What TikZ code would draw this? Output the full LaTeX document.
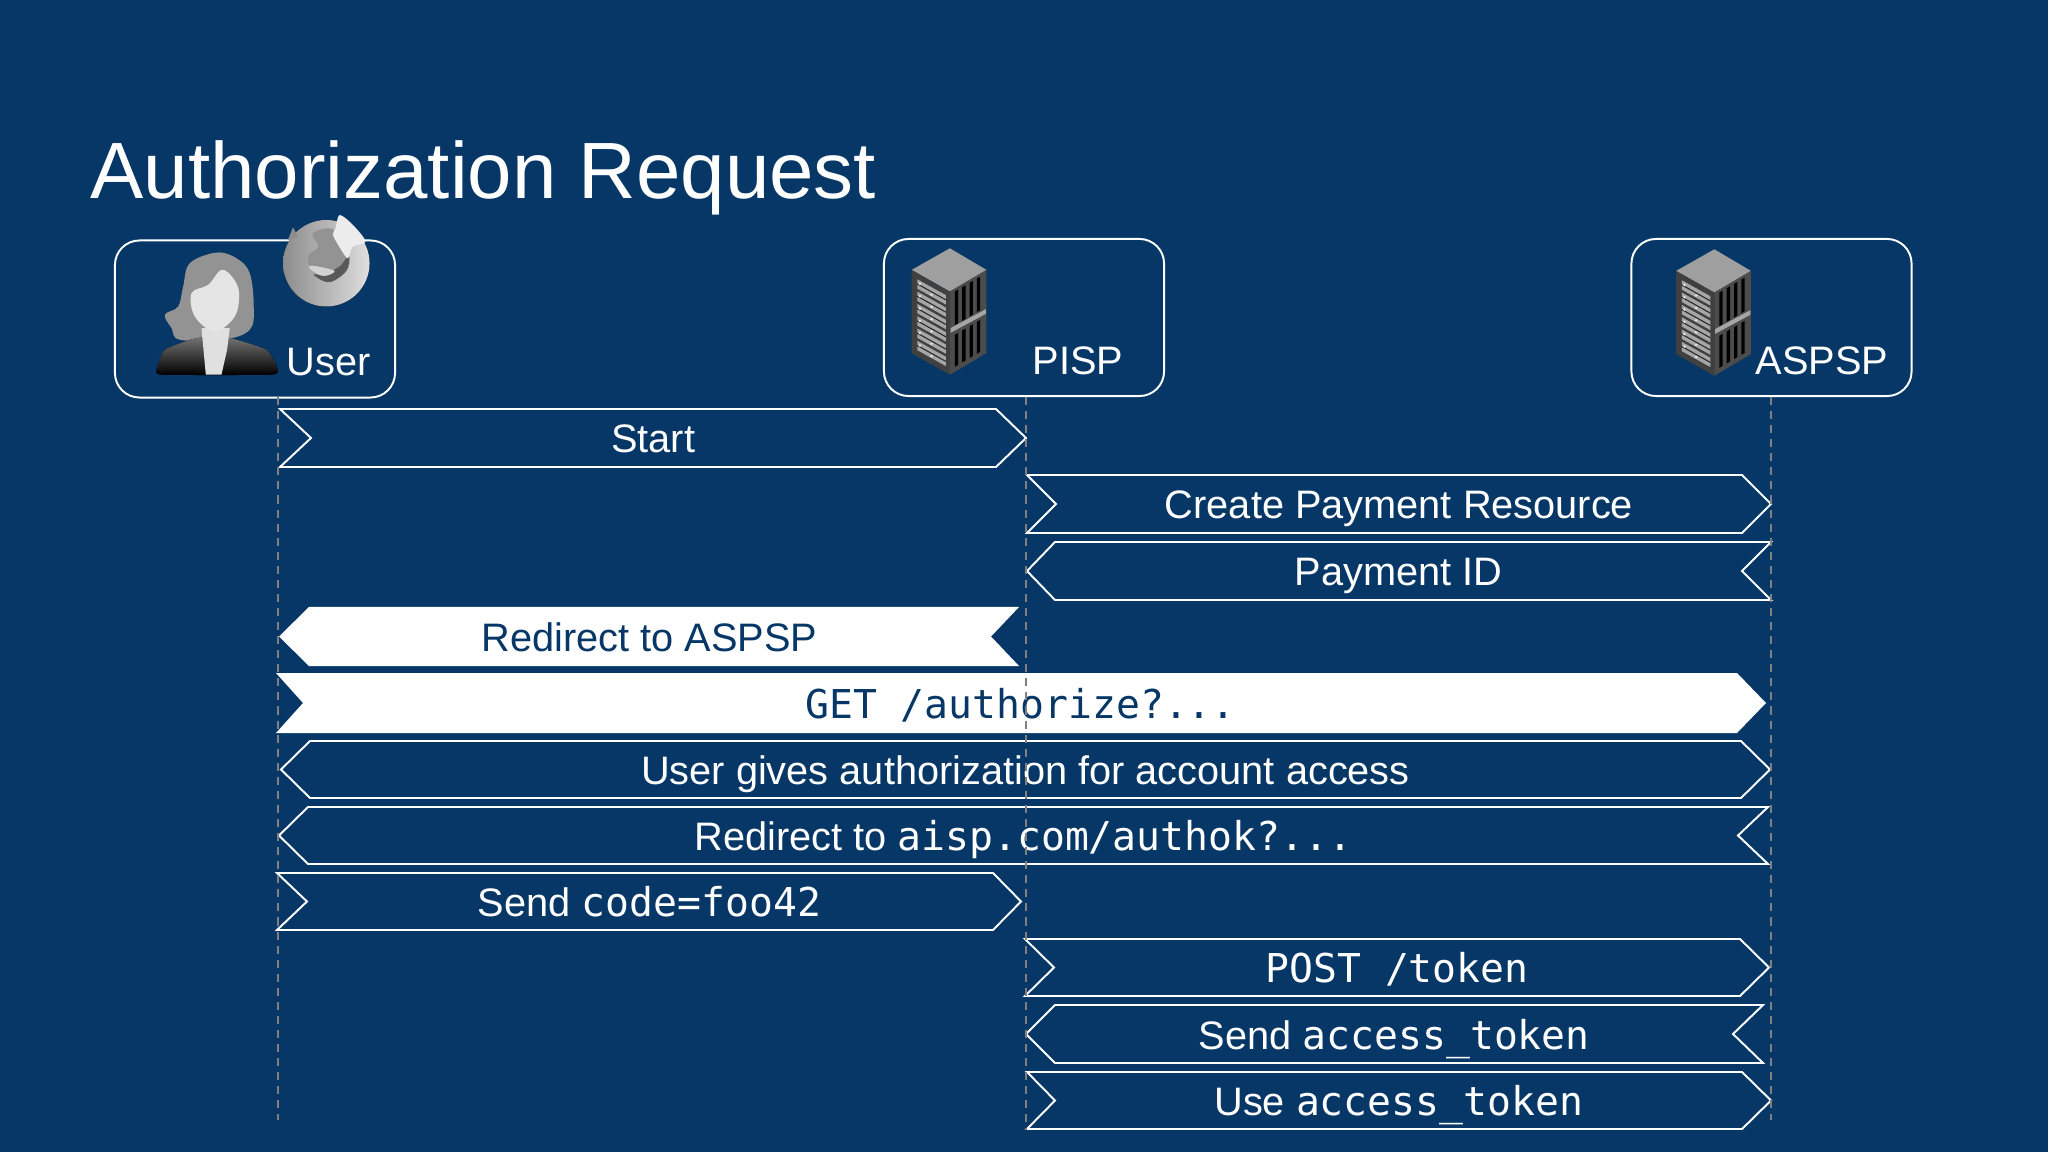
\documentclass[tikz,border=0pt]{standalone}
\usepackage{fontspec}
\setmainfont{Liberation Sans}
\setmonofont{DejaVu Sans Mono}
\definecolor{slide}{HTML}{063766}
\tikzset{
  actorbox/.style={draw=white,line width=0.55pt,rounded corners=7pt,inner sep=0,minimum width=2.8cm,minimum height=1.57cm},
  lifeline/.style={draw=gray,line width=0.45pt,dash pattern=on 2.3pt off 1.7pt},
  msgline/.style={draw=white,line width=0.55pt,text=white},
  msgfill/.style={fill=white,text=slide},
  msglabel/.style={draw=none,fill=none,anchor=base,inner sep=0,font=\fontsize{11.3}{13}\selectfont},
  actorlabel/.style={anchor=base west,inner sep=0,text=white,font=\fontsize{11.3}{13}\selectfont}
}
\newcommand{\Message}[9]% left corner, left mid, right corner, right mid, top, bottom, style, name, text
{\path[#7] (#1,#5) -- (#2,{(#5+#6)/2}) -- (#1,#6) -- (#3,#6) -- (#4,{(#5+#6)/2}) -- (#3,#5) -- cycle;
  \node[#7,msglabel] (#8) at ({(#1+#2+#3+#4)/4},{(#5+#6)/2+15}) {#9};
}
\newcommand{\Rack}[1]% shift
{\begin{scope}[shift={(#1)},x=0.00333cm,y=-0.00333cm]
    \fill[gray!75] (270,85) -- (380,150) -- (270,215) -- (155,150) -- cycle;
    \fill[black!75] (155,150) -- (270,215) -- (270,465) -- (155,400) -- cycle;
    \fill[black!70] (270,215) -- (380,150) -- (380,400) -- (270,465) -- cycle;
    \foreach \row in {0,...,5}
    {\fill[gray!70] (172,{178+\row*37}) -- (258,{226+\row*37}) -- (258,{254+\row*37}) -- (172,{206+\row*37}) -- cycle;
      \draw[black!85,line width=0.3pt] (172,{192+\row*37}) -- (258,{240+\row*37});
      \fill[white!85!gray] (180,{192+\row*37}) circle (4) (215,{224+\row*37}) circle (4);
    }
    \foreach \col in {0,1,2,3}
    {\fill[black] ({285+\col*22},{215-\col*13}) -- ({295+\col*22},{209-\col*13}) -- ({295+\col*22},{310-\col*13}) -- ({285+\col*22},{316-\col*13}) -- cycle;
      \fill[black] ({285+\col*22},{345-\col*13}) -- ({295+\col*22},{339-\col*13}) -- ({295+\col*22},{435-\col*13}) -- ({285+\col*22},{441-\col*13}) -- cycle;
    }
    \fill[gray!70] (272,325) -- (378,268) -- (378,282) -- (272,339) -- cycle;
  \end{scope}}

\begin{document}
\begin{tikzpicture}[x=0.01cm,y=-0.01cm]
  \fill[slide] (0,0) rectangle (2048,1152);
  \node[anchor=base west,inner sep=0,text=white,font=\fontsize{22.7}{27}\selectfont] (Title) at (90,199) {Authorization Request};

  \node[actorbox] (User) at (255,319) {};
  \node[actorbox] (PISP) at (1024,317.5) {};
  \node[actorbox] (ASPSP) at (1771.5,317.5) {};

  % person
  \begin{scope}[shift={(90,200)},x=0.00333cm,y=-0.00333cm]
    \fill[gray!85] plot[smooth cycle,tension=0.6] coordinates {(380,158) (300,190) (280,260) (265,320) (225,345) (245,385) (270,420) (400,420) (480,390) (492,320) (480,220) (440,175)};
    \fill[top color=black!55,bottom color=black] plot[smooth cycle,tension=0.3] coordinates {(200,510) (225,450) (320,415) (420,415) (530,450) (565,510) (540,525) (220,525)};
    \fill[white!88!black] (335,385) -- (420,385) -- (412,450) -- (395,525) -- (348,525) -- cycle;
    \fill[white!90!black] plot[smooth cycle,tension=0.6] coordinates {(395,210) (355,255) (305,280) (315,350) (375,395) (435,350) (448,280) (430,235)};
  \end{scope}

  % browser
  \begin{scope}[shift={(90,200)},x=0.00333cm,y=-0.00333cm]
    \fill[left color=gray!90,right color=gray!25] (710,190) circle (130);
    \fill[gray!90] (595,120) -- (610,82) -- (625,110) -- cycle;
    \fill[gray!85] plot[smooth cycle,tension=0.7] coordinates {(670,100) (735,90) (775,160) (770,215) (710,245) (670,215) (655,170) (685,140)};
    \fill[black!65] plot[smooth cycle,tension=0.6] coordinates {(672,225) (720,247) (770,212) (778,165) (750,200) (700,222)};
    \fill[gray!35] plot[smooth cycle,tension=0.7] coordinates {(660,198) (710,205) (735,215) (705,228) (675,218)};
    \fill[white!85!gray] plot[smooth cycle,tension=0.5] coordinates {(750,45) (738,85) (730,105) (755,150) (775,175) (790,140) (828,125) (790,75)};
  \end{scope}

  \Rack{860,220}
  \Rack{1624.5,221}

  \node[actorlabel] (UserLabel) at (286,376) {User};
  \node[actorlabel] (PISPLabel) at (1032,374.5) {PISP};
  \node[actorlabel] (ASPSPLabel) at (1755,375) {ASPSP};

  \Message{280}{311}{996}{1026}{409}{467}{msgline}{Start}{Start}
  \Message{1027}{1056}{1742}{1771}{475}{533}{msgline}{Create}{Create Payment Resource}
  \Message{1055}{1027}{1771}{1742}{542}{600}{msgline}{PaymentId}{Payment ID}
  \Message{309}{279}{1019}{991}{607}{666}{msgfill}{RedirectAspsp}{Redirect to ASPSP}
  \Message{276}{303}{1737}{1766}{673}{733}{msgfill}{Authorize}{\ttfamily GET /authorize?...}
  \Message{310}{281}{1741}{1770}{741}{798}{msgline}{Consent}{User gives authorization for account access}
  \Message{308}{279}{1768}{1738}{807}{864}{msgline}{RedirectAisp}{Redirect to \texttt{aisp.com/authok?...}}
  \Message{277}{307}{993}{1021}{873}{930}{msgline}{SendCode}{Send \texttt{code=foo42}}
  \Message{1025}{1054}{1740}{1769}{939}{996}{msgline}{PostToken}{\ttfamily POST /token}
  \Message{1055}{1026}{1763}{1733}{1005}{1063}{msgline}{SendToken}{Send \texttt{access\_token}}
  \Message{1027}{1055}{1742}{1771}{1072}{1129}{msgline}{UseToken}{Use \texttt{access\_token}}

  \coordinate (UserTop) at (278,397);
  \coordinate (UserEnd) at (278,1120);
  \coordinate (PISPTop) at (1026,397);
  \coordinate (PISPEnd) at (1026,1130);
  \coordinate (ASPSPTop) at (1771,397);
  \coordinate (ASPSPEnd) at (1771,1120);
  \draw[lifeline] (UserTop) -- (UserEnd);
  \draw[lifeline] (PISPTop) -- (PISPEnd);
  \draw[lifeline] (ASPSPTop) -- (ASPSPEnd);
\end{tikzpicture}
\end{document}
